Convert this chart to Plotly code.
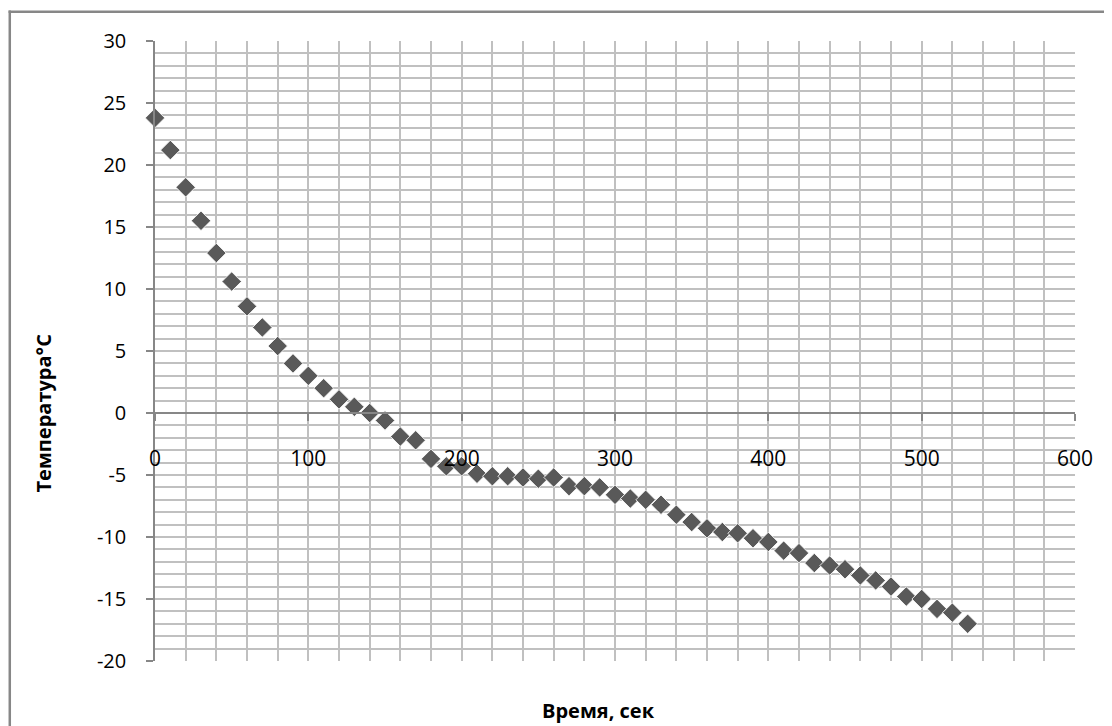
import plotly.graph_objects as go

time_s = [0, 10, 20, 30, 40, 50, 60, 70, 80, 90,
          100, 110, 120, 130, 140, 150, 160, 170, 180, 190,
          200, 210, 220, 230, 240, 250, 260, 270, 280, 290,
          300, 310, 320, 330, 340, 350, 360, 370, 380, 390,
          400, 410, 420, 430, 440, 450, 460, 470, 480, 490,
          500, 510, 520, 530]
temperature_c = [23.8, 21.2, 18.2, 15.5, 12.9, 10.6, 8.6, 6.9, 5.4, 4.0,
                 3.0, 2.0, 1.1, 0.5, 0.0, -0.6, -1.9, -2.2, -3.7, -4.3,
                 -4.3, -4.9, -5.1, -5.1, -5.2, -5.3, -5.2, -5.9, -5.9, -6.0,
                 -6.6, -6.9, -7.0, -7.4, -8.2, -8.8, -9.3, -9.6, -9.7, -10.1,
                 -10.4, -11.1, -11.3, -12.1, -12.3, -12.6, -13.1, -13.5, -14.0, -14.8,
                 -15.0, -15.8, -16.1, -17.0]

y_tick_vals = [-20, -15, -10, -5, 0, 5, 10, 15, 20, 25, 30]
y_tick_text = ["-20", "-15", "-10", "-5", "0", "5", "10", "15", "20", "25", "30"]
x_tick_vals = [0, 100, 200, 300, 400, 500, 600]
x_tick_text = ["0", "100", "200", "300", "400", "500", "600"]

x_title = "Время, сек"
y_title = "Температура°C"

# page is offset by the 8px body margin
OFF = 8
W, H = 1112 - OFF, 726 - OFF
L, T = 154.5 - OFF, 40.5 - OFF
R = W - (1075 - OFF)
B = H - (661.5 - OFF)
PW, PH = W - L - R, H - T - B

grid_col = "#c0c0c0"
axis_col = "#878787"


def px(xp):
    return (xp - OFF - L) / PW


def py(yp):
    return 1 - (yp - OFF - T) / PH


fig = go.Figure()
fig.add_trace(go.Scatter(
    x=time_s, y=temperature_c, mode="markers",
    marker=dict(symbol="diamond", size=15, color="#595959",
                line=dict(width=1, color="rgba(255,255,255,0.85)")),
    showlegend=False, cliponaxis=False,
))

fig.update_layout(
    width=W, height=H,
    margin=dict(l=L, r=R, t=T, b=B, pad=0),
    paper_bgcolor="white", plot_bgcolor="white",
    xaxis=dict(
        range=[0, 600], tickvals=x_tick_vals, ticktext=x_tick_text,
        showgrid=True, gridcolor=grid_col, gridwidth=1.5,
        minor=dict(dtick=20, showgrid=True, gridcolor=grid_col, gridwidth=1.5),
        showline=True, linecolor=axis_col, linewidth=1.5,
        ticks="outside", ticklen=7, tickcolor=axis_col, tickwidth=1.5,
        anchor="free", position=0.4, zeroline=False,
        ticklabelstandoff=20,
        tickfont=dict(family="Open Sans", size=21, color="black"),
        fixedrange=True,
    ),
    yaxis=dict(
        range=[-20, 30], tickvals=y_tick_vals, ticktext=y_tick_text,
        showgrid=True, gridcolor=grid_col, gridwidth=1.5,
        minor=dict(dtick=1, showgrid=True, gridcolor=grid_col, gridwidth=1.5),
        showline=True, linecolor=axis_col, linewidth=1.5,
        ticks="outside", ticklen=7, tickcolor=axis_col, tickwidth=1.5,
        zeroline=False, ticklabelstandoff=16,
        tickfont=dict(family="Open Sans", size=20, color="black"),
        fixedrange=True,
    ),
    shapes=[
        dict(type="line", xref="paper", yref="paper",
             x0=px(8), x1=px(1130), y0=py(11.2), y1=py(11.2),
             line=dict(color=axis_col, width=2.5)),
        dict(type="line", xref="paper", yref="paper",
             x0=px(9.2), x1=px(9.2), y0=py(740), y1=py(10),
             line=dict(color=axis_col, width=2.5)),
    ],
    annotations=[
        dict(text=f"<b>{x_title}</b>", xref="paper", yref="paper",
             x=px(598), y=py(711),
             showarrow=False, xanchor="center", yanchor="middle",
             font=dict(family="Open Sans", size=20, color="black")),
        dict(text=f"<b>{y_title}</b>", xref="paper", yref="paper",
             x=px(43), y=py(413), textangle=-90,
             showarrow=False, xanchor="center", yanchor="middle",
             font=dict(family="Open Sans", size=20, color="black")),
    ],
)

fig.write_html("out.html")
